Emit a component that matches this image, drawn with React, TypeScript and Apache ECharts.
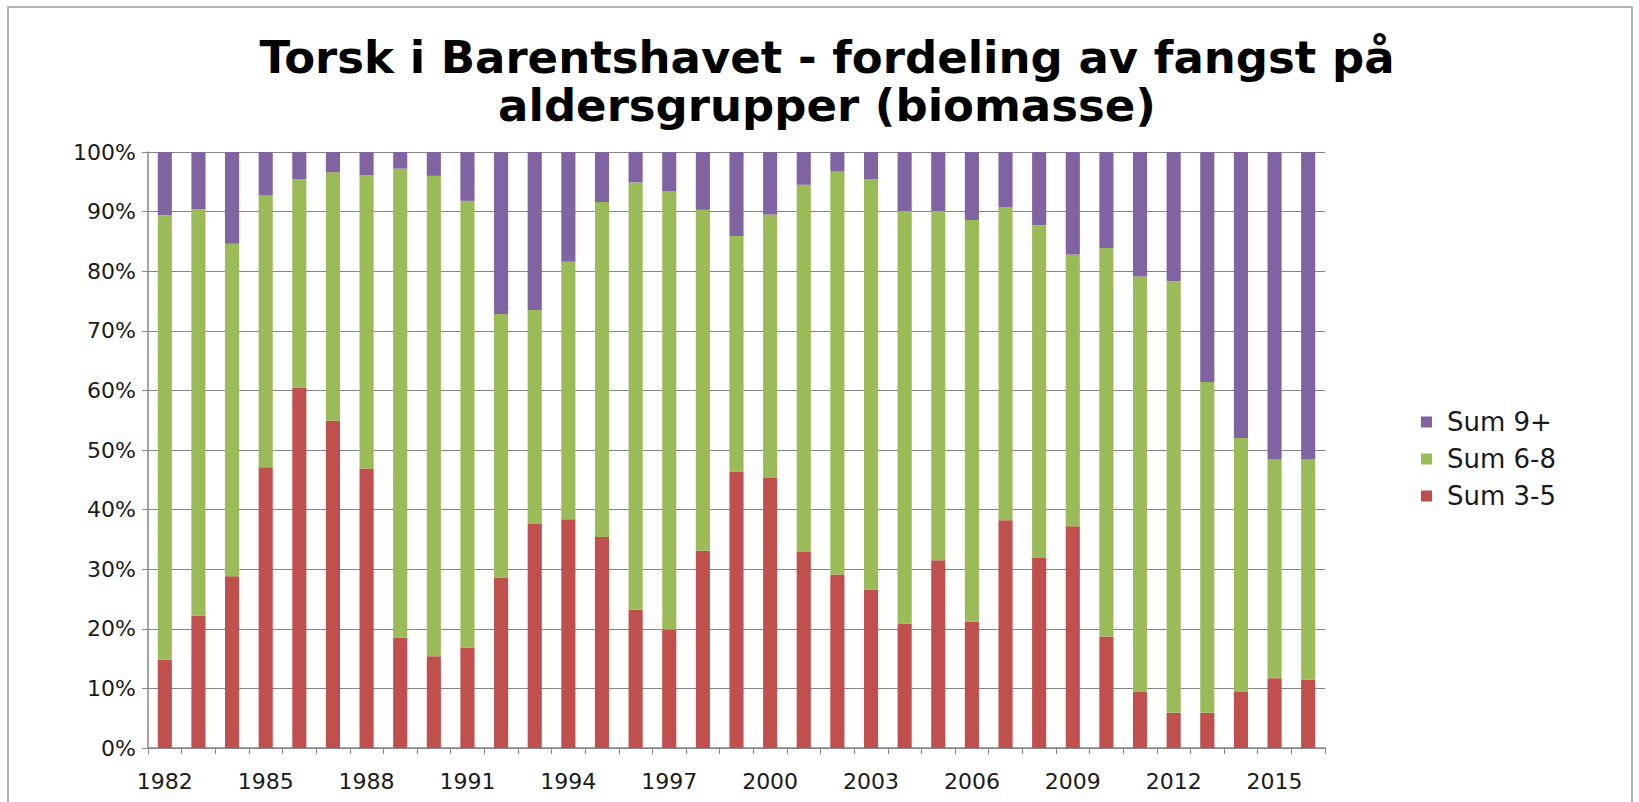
import React, { useEffect, useRef } from "react";
import * as echarts from "echarts";

const years = [
  "1982","1983","1984","1985","1986","1987","1988","1989","1990","1991",
  "1992","1993","1994","1995","1996","1997","1998","1999","2000","2001",
  "2002","2003","2004","2005","2006","2007","2008","2009","2010","2011",
  "2012","2013","2014","2015","2016",
];

const sum3to5 = [
  14.8, 22.2, 28.8, 47.1, 60.5, 54.9, 46.9, 18.5, 15.4, 16.8,
  28.6, 37.6, 38.4, 35.4, 23.2, 19.9, 33.1, 46.4, 45.3, 32.9,
  29.1, 26.6, 20.9, 31.5, 21.2, 38.2, 31.9, 37.2, 18.7, 9.4,
  5.9, 5.9, 9.4, 11.7, 11.5,
];

const sum6to8 = [
  74.6, 68.2, 55.8, 45.6, 34.9, 41.7, 49.2, 78.7, 80.6, 75.0,
  44.2, 35.9, 43.2, 56.2, 71.7, 73.5, 57.2, 39.5, 44.2, 61.6,
  67.7, 68.8, 69.2, 58.6, 67.4, 52.5, 55.8, 45.6, 65.2, 69.7,
  72.4, 55.5, 42.6, 36.7, 36.9,
];

const sum9plus = [
  10.6, 9.6, 15.4, 7.3, 4.6, 3.4, 3.9, 2.8, 4.0, 8.2,
  27.2, 26.5, 18.4, 8.4, 5.1, 6.6, 9.7, 14.1, 10.5, 5.5,
  3.2, 4.6, 9.9, 9.9, 11.4, 9.3, 12.3, 17.2, 16.1, 20.9,
  21.7, 38.6, 48.0, 51.6, 51.6,
];

const titleLines = "Torsk i Barentshavet - fordeling av fangst på\naldersgrupper (biomasse)";

export default function App() {
  const ref = useRef<HTMLDivElement>(null);
  useEffect(() => {
    if (!ref.current) return;
    const chart = echarts.init(ref.current, null, { renderer: "svg" });
    const font = "DejaVu Sans";
    chart.setOption({
      animation: false,
      backgroundColor: "#ffffff",
      title: {
        text: titleLines,
        left: 822,
        textAlign: "center",
        top: 28,
        textStyle: {
          fontFamily: font,
          fontWeight: "bold",
          fontSize: 45,
          lineHeight: 48,
          color: "#000000",
        },
      },
      graphic: [
        {
          type: "rect",
          shape: { x: 8, y: 7, width: 1624, height: 800 },
          style: { fill: "none", stroke: "#9a9a9a", lineWidth: 1.5 },
          silent: true,
        },
      ],
      legend: {
        orient: "vertical",
        left: 1416,
        top: 404,
        itemWidth: 11,
        itemHeight: 11,
        itemGap: 11,
        icon: "rect",
        data: ["Sum 9+", "Sum 6-8", "Sum 3-5"],
        textStyle: { fontFamily: font, fontSize: 26, color: "#1a1a1a", padding: [0, 0, 0, 10] },
      },
      grid: { left: 148, right: 314, top: 152, bottom: 54, containLabel: false },
      xAxis: {
        type: "category",
        data: years,
        boundaryGap: true,
        axisLine: { lineStyle: { color: "#868686", width: 1.5 } },
        axisTick: { show: true, interval: 0, length: 6, lineStyle: { color: "#868686" } },
        axisLabel: {
          interval: 2,
          fontFamily: font,
          fontSize: 22,
          color: "#1a1a1a",
          margin: 22,
        },
      },
      yAxis: {
        type: "value",
        min: 0,
        max: 100,
        interval: 10,
        axisLine: { show: true, lineStyle: { color: "#868686", width: 1.5 } },
        axisTick: { show: true, length: 6, lineStyle: { color: "#868686" } },
        splitLine: { lineStyle: { color: "#868686", width: 1 } },
        axisLabel: {
          formatter: "{value}%",
          fontFamily: font,
          fontSize: 22,
          color: "#1a1a1a",
          margin: 12,
        },
      },
      series: [
        {
          name: "Sum 3-5",
          type: "bar",
          stack: "total",
          barWidth: "42%",
          data: sum3to5,
          itemStyle: { color: "#C0504D" },
        },
        {
          name: "Sum 6-8",
          type: "bar",
          stack: "total",
          barWidth: "42%",
          data: sum6to8,
          itemStyle: { color: "#9BBB59" },
        },
        {
          name: "Sum 9+",
          type: "bar",
          stack: "total",
          barWidth: "42%",
          data: sum9plus,
          itemStyle: { color: "#8064A2" },
        },
      ],
    });
    return () => chart.dispose();
  }, []);
  return (
    <div
      ref={ref}
      style={{ position: "absolute", left: 0, top: 0, width: 1639, height: 802 }}
    />
  );
}
